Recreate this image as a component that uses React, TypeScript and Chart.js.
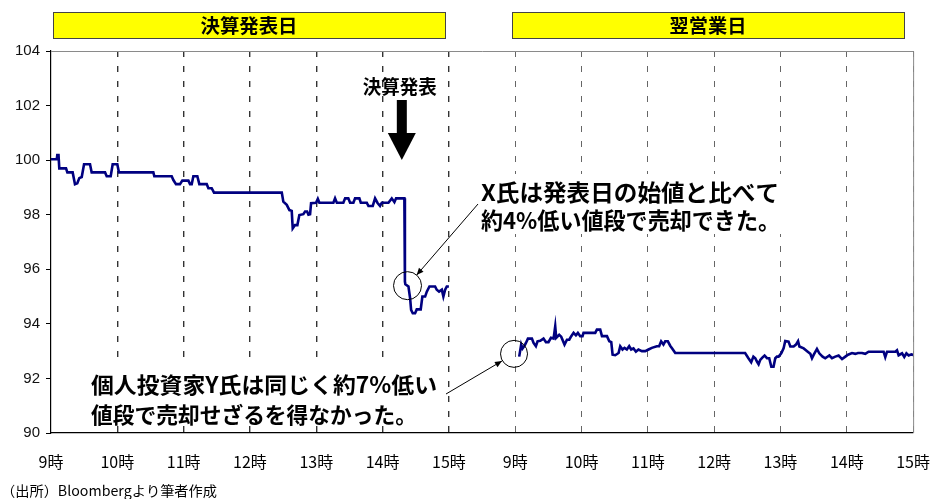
import React, { useEffect, useRef } from "react";
import { Chart, registerables } from "chart.js";

Chart.register(...registerables);

// ---- data ----
const tickLabels = ["9時", "10時", "11時", "12時", "13時", "14時", "15時", "9時", "10時", "11時", "12時", "13時", "14時", "15時"];
const day2StartHour = 7; // axis position of day-2 9時
const yMin = 90;
const yMax = 104;
const yStep = 2;

// minutes after 9:00, earnings-announcement day
const day1Minutes = [0, 5.2, 5.7, 6.8, 7.5, 13.6, 14.8, 19.6, 21.7, 23.8, 25.6, 27.8, 29.9, 35.3, 36.8, 48.9, 50.4, 54, 55.8, 60, 61.5, 92.6, 93.5, 109.2, 110.7, 113.1, 116.7, 118.8, 124.3, 125.8, 127.3, 128.8, 132.4, 134.2, 140.9, 142.4, 145.4, 147.5, 208.8, 210.2, 213.3, 215.7, 217.8, 218.7, 220.8, 222.9, 224.7, 228.3, 229.9, 231.7, 232.9, 234.4, 235.3, 239.8, 241.4, 242.8, 255.5, 257, 258.6, 264.5, 266.1, 269, 270.6, 273.6, 275.1, 279, 280.3, 285.7, 287.2, 291.1, 293.2, 295.3, 297.7, 299.3, 305.3, 308.3, 310.7, 312.2, 319.7, 320.2, 320.6, 323.4, 324.9, 325.8, 327.3, 329.4, 330.9, 334.5, 336, 338.5, 340, 342.4, 347.5, 349, 351.1, 353.6, 355, 356.6, 358.1, 360];
const day1Prices = [100.03, 100.03, 100.19, 100.19, 99.7, 99.7, 99.55, 99.55, 99.12, 99.15, 99.34, 99.38, 99.85, 99.85, 99.55, 99.55, 99.41, 99.41, 99.85, 99.85, 99.55, 99.55, 99.41, 99.41, 99.27, 99.12, 99.12, 99.25, 99.25, 99.12, 99.12, 99.41, 99.41, 99.12, 99.12, 98.97, 98.97, 98.81, 98.81, 98.48, 98.36, 98.17, 98.14, 97.5, 97.62, 97.62, 97.99, 98.02, 98.12, 98.12, 98.0, 98.02, 98.42, 98.44, 98.58, 98.44, 98.44, 98.6, 98.44, 98.44, 98.6, 98.6, 98.44, 98.44, 98.6, 98.6, 98.44, 98.44, 98.32, 98.32, 98.6, 98.44, 98.32, 98.44, 98.44, 98.6, 98.46, 98.6, 98.6, 95.55, 95.45, 95.37, 94.94, 94.51, 94.39, 94.39, 94.53, 94.53, 95.0, 95.0, 95.18, 95.37, 95.37, 95.25, 95.18, 95.25, 95.0, 95.25, 95.37, 95.37];

// minutes after 9:00, next business day
const day2Minutes = [3.6, 5.4, 6.6, 8.4, 9.7, 11.5, 15.1, 16.6, 18.7, 20.2, 22.6, 25.6, 27.8, 30.1, 32.3, 34.7, 36.2, 37.1, 39.8, 41.6, 44.6, 46.8, 48.9, 50.7, 52.8, 54.9, 56.7, 58.8, 60.9, 61.8, 72.4, 73.9, 76.9, 78.5, 83, 85.1, 86.9, 88.1, 90.5, 93.5, 95, 97.1, 98.9, 101, 103.1, 104.9, 107, 109.2, 111.5, 114.6, 117.6, 120.6, 123.6, 128.1, 130.2, 132, 134.1, 135.7, 138.1, 140.2, 142, 144.8, 208, 211, 213.5, 215.5, 217.2, 218.7, 220.2, 221.7, 223.8, 225.6, 227.8, 229.8, 231.7, 233.7, 235.3, 236.8, 238.3, 240.7, 242.8, 244.3, 247.3, 248.9, 251.9, 254, 255.9, 257.1, 261, 264.1, 267, 268.5, 270, 273, 275.1, 278.1, 280.5, 284.2, 286.6, 289.6, 292.6, 295.7, 298.7, 301.1, 304.7, 307.7, 310.1, 313.7, 316.7, 319.7, 333.3, 334.8, 336.4, 343.9, 345.4, 346.9, 350, 352, 353.9, 356, 358.4, 360];
const day2Prices = [92.8, 93.24, 93.1, 93.2, 93.3, 93.46, 93.46, 93.3, 93.18, 93.36, 93.38, 93.46, 93.33, 93.33, 93.49, 93.46, 93.91, 93.49, 93.6, 93.53, 93.24, 93.42, 93.42, 93.55, 93.67, 93.58, 93.67, 93.55, 93.55, 93.67, 93.67, 93.79, 93.79, 93.55, 93.55, 93.36, 93.33, 92.87, 92.85, 92.93, 93.18, 93.06, 93.12, 93.06, 93.18, 93.06, 93.1, 92.98, 93.06, 93.0, 93.0, 93.06, 93.12, 93.18, 93.18, 93.36, 93.24, 93.36, 93.36, 93.2, 93.1, 92.93, 92.93, 92.74, 92.59, 92.8, 92.74, 92.62, 92.52, 92.68, 92.77, 92.84, 92.74, 92.74, 92.43, 92.43, 92.74, 92.8, 92.8, 92.92, 93.1, 93.37, 93.35, 93.17, 93.17, 93.24, 93.37, 93.17, 93.1, 93.0, 92.9, 92.74, 92.86, 93.08, 92.92, 92.8, 92.74, 92.84, 92.74, 92.8, 92.84, 92.71, 92.8, 92.87, 92.93, 92.9, 92.93, 92.93, 92.9, 92.98, 92.98, 92.78, 92.98, 92.98, 93.03, 92.85, 92.92, 92.79, 92.92, 92.84, 92.88, 92.86];

// annotation anchors (axis units)
const announceHour = 5.29;
const circleX = { hour: 5.376, price: 95.4 };
const circleY = { hour: 6.982, price: 92.9 };

const headerLabels = ["決算発表日", "翌営業日"];
const announceLabel = "決算発表";
const noteX = ["X氏は発表日の始値と比べて", "約4%低い値段で売却できた。"];
const noteY = ["個人投資家Y氏は同じく約7%低い", "値段で売却せざるを得なかった。"];
const sourceLabel = "（出所）Bloombergより筆者作成";

const JP = "'Noto Sans CJK JP', 'Noto Sans CJK SC', sans-serif";

function toPoints(mins: number[], vals: number[], offset: number) {
  return mins.map((m, i) => ({ x: offset + m / 60, y: vals[i] }));
}

function stretchText(ctx: CanvasRenderingContext2D, text: string, left: number, cy: number, width: number, font: string) {
  ctx.save();
  ctx.font = font;
  const w = ctx.measureText(text).width;
  ctx.translate(left, cy);
  ctx.scale(width / w, 1);
  ctx.textBaseline = "middle";
  ctx.textAlign = "left";
  ctx.fillStyle = "#000";
  ctx.fillText(text, 0, 0);
  ctx.restore();
}

function arrowLine(ctx: CanvasRenderingContext2D, x1: number, y1: number, x2: number, y2: number) {
  ctx.save();
  ctx.strokeStyle = "#000";
  ctx.fillStyle = "#000";
  ctx.lineWidth = 1;
  ctx.beginPath();
  ctx.moveTo(x1, y1);
  ctx.lineTo(x2, y2);
  ctx.stroke();
  const a = Math.atan2(y2 - y1, x2 - x1);
  const L = 7, W = 3;
  ctx.beginPath();
  ctx.moveTo(x2, y2);
  ctx.lineTo(x2 - L * Math.cos(a) + W * Math.sin(a), y2 - L * Math.sin(a) - W * Math.cos(a));
  ctx.lineTo(x2 - L * Math.cos(a) - W * Math.sin(a), y2 - L * Math.sin(a) + W * Math.cos(a));
  ctx.closePath();
  ctx.fill();
  ctx.restore();
}

const annotationPlugin = {
  id: "annotations",
  beforeDatasetsDraw(chart: any) {
    const { ctx, chartArea } = chart;
    ctx.save();
    // frame: top & right in grey
    ctx.strokeStyle = "#8a8a8a";
    ctx.lineWidth = 1;
    ctx.beginPath();
    ctx.moveTo(chartArea.left, chartArea.top + 0.5);
    ctx.lineTo(chartArea.right + 0.5, chartArea.top + 0.5);
    ctx.lineTo(chartArea.right + 0.5, chartArea.bottom);
    ctx.stroke();
    // white backgrounds behind the notes
    ctx.fillStyle = "#fff";
    ctx.fillRect(470, 174, 322, 60);
    ctx.fillRect(85, 364, 357, 61);
    ctx.restore();
  },
  afterDraw(chart: any) {
    const { ctx } = chart;
    const xs = chart.scales.x;
    const ys = chart.scales.y;
    ctx.save();
    // header boxes
    const boxes = [
      { l: 53, r: 445 },
      { l: 512, r: 904 },
    ];
    const widths = [97, 77];
    boxes.forEach((b, i) => {
      ctx.fillStyle = "#ffff00";
      ctx.fillRect(b.l, 12, b.r - b.l, 26);
      ctx.strokeStyle = "#444";
      ctx.lineWidth = 1;
      ctx.strokeRect(b.l + 0.5, 12.5, b.r - b.l, 26);
      const cx = (b.l + b.r) / 2;
      stretchText(ctx, headerLabels[i], cx - widths[i] / 2, 26, widths[i], `bold 19px ${JP}`);
    });

    // announcement label + arrow
    const ax = xs.getPixelForValue(announceHour);
    stretchText(ctx, announceLabel, ax - 39, 87, 74, `bold 19px ${JP}`);
    ctx.fillStyle = "#000";
    ctx.fillRect(ax - 5, 100, 10, 34);
    ctx.beginPath();
    ctx.moveTo(ax - 14, 133);
    ctx.lineTo(ax + 14, 133);
    ctx.lineTo(ax, 160);
    ctx.closePath();
    ctx.fill();

    // circles
    const r = 14;
    const c1x = xs.getPixelForValue(circleX.hour), c1y = ys.getPixelForValue(circleX.price);
    const c2x = xs.getPixelForValue(circleY.hour), c2y = ys.getPixelForValue(circleY.price);
    ctx.strokeStyle = "#000";
    ctx.lineWidth = 1;
    ctx.beginPath();
    ctx.arc(c1x, c1y, r, 0, Math.PI * 2);
    ctx.stroke();
    ctx.beginPath();
    ctx.arc(c2x, c2y, r - 0.5, 0, Math.PI * 2);
    ctx.stroke();

    // pointer lines
    const s1 = { x: 478, y: 204 };
    let d = Math.hypot(s1.x - c1x, s1.y - c1y);
    arrowLine(ctx, s1.x, s1.y, c1x + (s1.x - c1x) / d * r, c1y + (s1.y - c1y) / d * r);
    const s2 = { x: 446, y: 394 };
    d = Math.hypot(s2.x - c2x, s2.y - c2y);
    arrowLine(ctx, s2.x, s2.y, c2x + (s2.x - c2x) / d * r, c2y + (s2.y - c2y) / d * r);

    // notes
    stretchText(ctx, noteX[0], 481, 192, 298, `bold 23px ${JP}`);
    stretchText(ctx, noteX[1], 481, 220, 299, `bold 23px ${JP}`);
    stretchText(ctx, noteY[0], 91, 385, 346, `bold 22px ${JP}`);
    stretchText(ctx, noteY[1], 91, 415, 326, `bold 22px ${JP}`);

    // source
    stretchText(ctx, sourceLabel, 1, 491, 216, `14px ${JP}`);
    ctx.restore();
  },
};

export default function App() {
  const canvasRef = useRef<HTMLCanvasElement | null>(null);

  useEffect(() => {
    if (!canvasRef.current) return;
    const chart = new Chart(canvasRef.current, {
      type: "line",
      data: {
        datasets: [
          {
            label: "決算発表日",
            data: toPoints(day1Minutes, day1Prices, 0),
            borderColor: "#000080",
            borderWidth: 2.6,
            pointRadius: 0,
            fill: false,
            tension: 0,
          },
          {
            label: "翌営業日",
            data: toPoints(day2Minutes, day2Prices, day2StartHour),
            borderColor: "#000080",
            borderWidth: 2.6,
            pointRadius: 0,
            fill: false,
            tension: 0,
          },
        ],
      },
      options: {
        responsive: false,
        animation: false,
        parsing: false as any,
        layout: { padding: { top: 51, right: 0, left: 0, bottom: 0 } },
        plugins: { legend: { display: false }, tooltip: { enabled: false }, title: { display: false } },
        scales: {
          x: {
            type: "linear",
            min: 0,
            max: tickLabels.length - 1,
            ticks: {
              stepSize: 1,
              autoSkip: false,
              maxRotation: 0,
              padding: 2,
              color: "#000",
              font: { family: JP, size: 16 },
              callback: (v: any) => tickLabels[Math.round(Number(v))] ?? "",
            },
            grid: {
              drawTicks: true,
              tickLength: 17,
              tickColor: "rgba(0,0,0,0)",
              color: (c: any) => {
                const v = c.tick ? c.tick.value : c.index;
                if (v === 0) return "rgba(0,0,0,0)";
                return v <= 6 ? "#333" : "#666";
              },
              lineWidth: (c: any) => {
                const v = c.tick ? c.tick.value : c.index;
                return v <= 6 ? 1.4 : 1;
              },
            },
            border: { display: true, color: "#000", width: 1.2, dash: [6, 9] },
            afterFit: (s: any) => {
              s.height = 66;
            },
          },
          y: {
            type: "linear",
            min: yMin,
            max: yMax,
            ticks: {
              stepSize: yStep,
              padding: 6,
              color: "#111",
              font: { family: "'Liberation Sans', Arial, sans-serif", size: 15 },
            },
            grid: { drawOnChartArea: false, drawTicks: true, tickLength: 5, color: "#000" },
            border: { display: true, color: "#000", width: 1.2 },
            afterFit: (s: any) => {
              s.width = 51;
            },
          },
        },
      },
      plugins: [annotationPlugin],
    });
    return () => chart.destroy();
  }, []);

  return (
    <div style={{ position: "absolute", left: 0, top: 0, width: 932, height: 499, background: "#fff" }}>
      <canvas ref={canvasRef} width={932} height={499} style={{ display: "block" }} />
    </div>
  );
}
